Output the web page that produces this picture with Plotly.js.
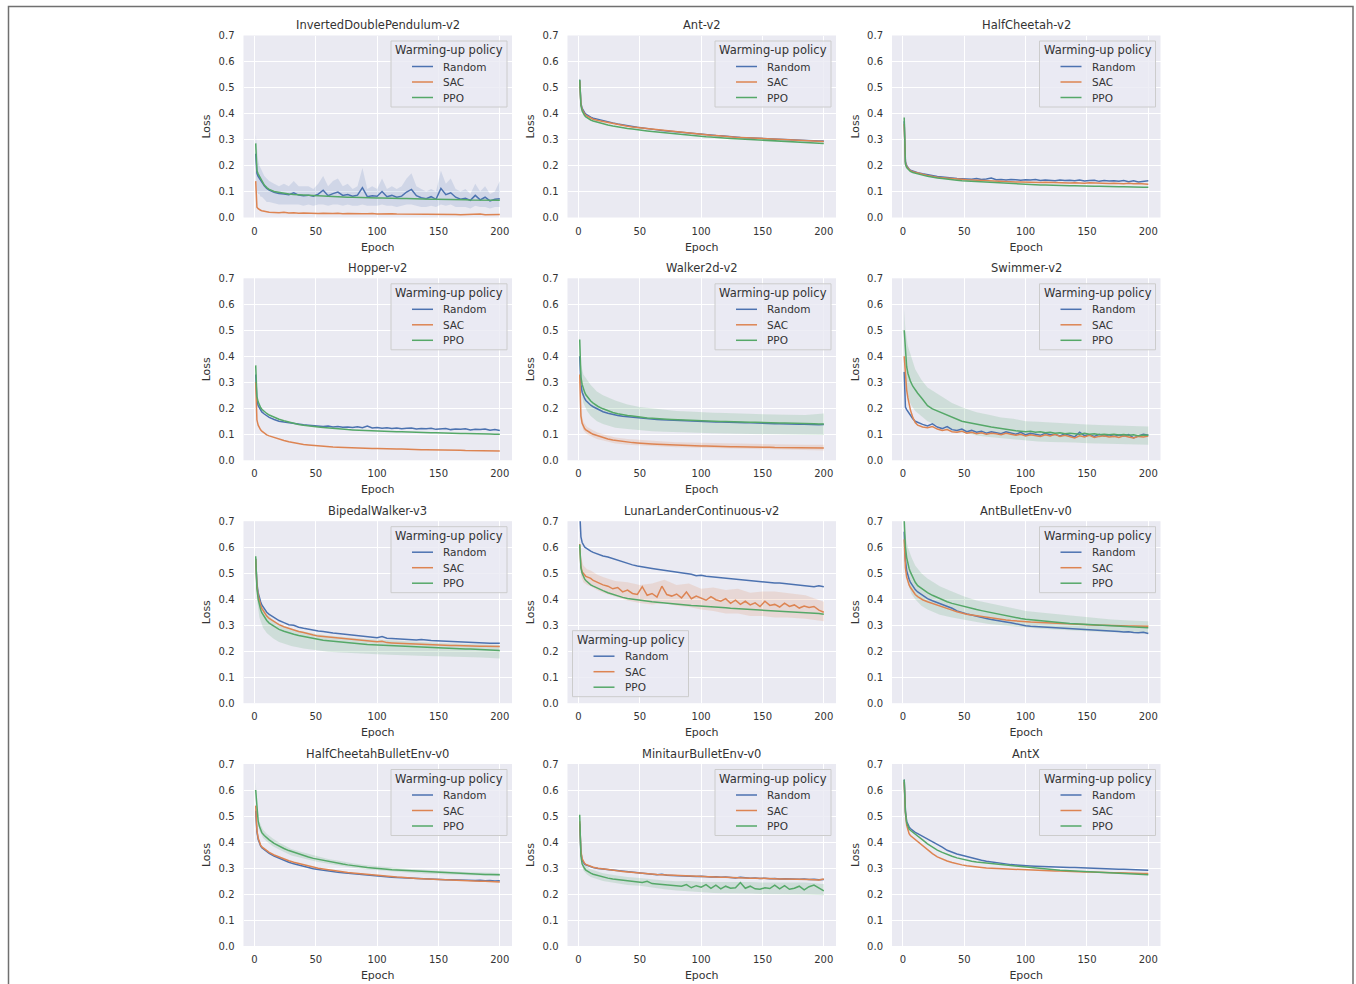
<!DOCTYPE html>
<html><head><meta charset="utf-8">
<script src="https://cdn.plot.ly/plotly-3.0.1.min.js"></script>
<style>html,body{margin:0;padding:0;background:#fff;}</style>
</head><body><div id="chart" style="width:1356px;height:984px;"></div>
<script>
// ---------------- data ----------------
const EPOCHS = [1,2,3,4,5,6,8,10, 12,16,20,24,28,32,36,40, 44,48,52,56,60,64,68,72, 76,80,84,88,92,96,100,104,
  108,112,116,120,124,128,132,136, 140,144,148,152,156,160,164,168, 172,176,180,184,188,192,196,200];
const BAND_EPOCHS = [1,2,4,7,10,15,20,30, 40,50,60,70,80,90,100,110, 120,130,140,150,160,170,185,200];
const ENV_NAMES = ['InvertedDoublePendulum-v2','Ant-v2','HalfCheetah-v2','Hopper-v2','Walker2d-v2','Swimmer-v2',
  'BipedalWalker-v3','LunarLanderContinuous-v2','AntBulletEnv-v0','HalfCheetahBulletEnv-v0','MinitaurBulletEnv-v0','AntX'];
const POLICY_NAMES = ['Random','SAC','PPO'];
const LEGEND_TITLE = 'Warming-up policy';
const X_TICKS = [0,50,100,150,200];
const Y_TICKS = [0,0.1,0.2,0.3,0.4,0.5,0.6,0.7];

const idpRandom = [0.245,0.170,0.158,0.150,0.142,0.135,0.122,0.112, 0.105,0.097,0.092,0.090,0.088,0.095,0.086,0.084,
  0.086,0.082,0.090,0.105,0.084,0.092,0.098,0.085, 0.088,0.082,0.086,0.115,0.080,0.084,0.082,0.100,
  0.080,0.085,0.078,0.082,0.098,0.108,0.084,0.076, 0.072,0.080,0.070,0.112,0.088,0.095,0.078,0.070,
  0.074,0.066,0.085,0.068,0.078,0.064,0.070,0.072];
const idpSac = [0.140,0.040,0.034,0.030,0.028,0.026,0.024,0.021, 0.020,0.019,0.018,0.020,0.017,0.018,0.016,0.017,
  0.016,0.016,0.015,0.016,0.015,0.015,0.016,0.014, 0.015,0.014,0.015,0.014,0.014,0.015,0.013,0.014,
  0.013,0.014,0.013,0.013,0.014,0.013,0.012,0.013, 0.013,0.012,0.013,0.012,0.012,0.013,0.012,0.011,
  0.012,0.011,0.012,0.013,0.011,0.012,0.011,0.012];
const idpPpo = [0.285,0.180,0.168,0.160,0.150,0.140,0.125,0.115, 0.108,0.100,0.096,0.093,0.090,0.088,0.087,0.085,
  0.084,0.083,0.082,0.081,0.081,0.080,0.079,0.079, 0.078,0.078,0.077,0.077,0.076,0.076,0.075,0.075,
  0.074,0.074,0.073,0.073,0.073,0.072,0.072,0.071, 0.071,0.070,0.070,0.070,0.069,0.069,0.068,0.068,
  0.068,0.067,0.067,0.066,0.066,0.065,0.065,0.066];
const idpRandomLo = [0.17,0.10,0.09,0.09,0.08,0.08,0.07,0.06, 0.06,0.055,0.05,0.05,0.05,0.05,0.05,0.045,
  0.05,0.045,0.05,0.05,0.045,0.05,0.05,0.045, 0.05,0.045,0.045,0.05,0.045,0.045,0.045,0.05,
  0.045,0.045,0.04,0.045,0.05,0.05,0.045,0.04, 0.04,0.045,0.04,0.05,0.045,0.05,0.04,0.04,
  0.04,0.035,0.045,0.04,0.04,0.035,0.04,0.04];
const idpRandomHi = [0.32,0.25,0.22,0.20,0.19,0.18,0.16,0.15, 0.14,0.13,0.12,0.13,0.12,0.14,0.12,0.12,
  0.12,0.11,0.13,0.16,0.12,0.14,0.15,0.12, 0.13,0.11,0.12,0.19,0.11,0.12,0.11,0.15,
  0.11,0.12,0.11,0.12,0.15,0.17,0.12,0.11, 0.10,0.11,0.10,0.18,0.13,0.15,0.11,0.10,
  0.11,0.09,0.13,0.10,0.12,0.09,0.10,0.14];

const antRandom = [0.530,0.440,0.420,0.410,0.403,0.398,0.391,0.386, 0.382,0.377,0.372,0.368,0.364,0.360,0.356,0.353,
  0.350,0.347,0.344,0.342,0.340,0.337,0.335,0.333, 0.331,0.329,0.327,0.325,0.323,0.321,0.320,0.318,
  0.317,0.315,0.314,0.312,0.311,0.310,0.308,0.307, 0.306,0.305,0.304,0.303,0.302,0.301,0.300,0.299,
  0.298,0.297,0.297,0.296,0.295,0.295,0.294,0.294];
const antSac = [0.525,0.435,0.415,0.405,0.398,0.393,0.387,0.382, 0.378,0.373,0.369,0.365,0.361,0.358,0.354,0.351,
  0.348,0.346,0.343,0.341,0.339,0.336,0.334,0.332, 0.330,0.328,0.326,0.324,0.322,0.321,0.319,0.318,
  0.316,0.315,0.313,0.312,0.310,0.309,0.308,0.307, 0.305,0.304,0.303,0.302,0.301,0.300,0.299,0.298,
  0.297,0.297,0.296,0.295,0.294,0.294,0.293,0.292];
const antPpo = [0.530,0.430,0.410,0.400,0.392,0.387,0.380,0.375, 0.371,0.365,0.360,0.356,0.352,0.348,0.345,0.342,
  0.340,0.337,0.335,0.333,0.331,0.329,0.327,0.325, 0.323,0.321,0.319,0.318,0.316,0.314,0.313,0.311,
  0.310,0.308,0.307,0.306,0.304,0.303,0.302,0.300, 0.299,0.298,0.297,0.296,0.295,0.294,0.293,0.292,
  0.291,0.290,0.289,0.289,0.288,0.287,0.286,0.285];

const hcRandom = [0.370,0.215,0.200,0.192,0.186,0.182,0.178,0.175, 0.172,0.168,0.164,0.160,0.158,0.156,0.153,0.152,
  0.150,0.149,0.148,0.147,0.150,0.146,0.148,0.152, 0.145,0.146,0.144,0.146,0.145,0.143,0.145,0.144,
  0.146,0.142,0.144,0.143,0.141,0.144,0.142,0.143, 0.141,0.144,0.140,0.142,0.143,0.139,0.142,0.140,
  0.141,0.139,0.142,0.138,0.141,0.137,0.140,0.141];
const hcSac = [0.360,0.210,0.196,0.189,0.184,0.180,0.176,0.173, 0.170,0.166,0.162,0.158,0.155,0.153,0.151,0.150,
  0.148,0.146,0.145,0.144,0.143,0.142,0.141,0.140, 0.140,0.139,0.139,0.138,0.137,0.137,0.136,0.137,
  0.136,0.135,0.136,0.135,0.134,0.135,0.134,0.133, 0.134,0.133,0.132,0.134,0.133,0.131,0.132,0.131,
  0.132,0.131,0.130,0.132,0.130,0.131,0.129,0.128];
const hcPpo = [0.385,0.205,0.192,0.186,0.181,0.177,0.173,0.170, 0.167,0.163,0.159,0.155,0.152,0.150,0.147,0.145,
  0.143,0.141,0.140,0.138,0.137,0.136,0.134,0.133, 0.132,0.131,0.130,0.129,0.128,0.128,0.127,0.126,
  0.126,0.125,0.125,0.124,0.124,0.123,0.123,0.122, 0.122,0.121,0.121,0.120,0.120,0.120,0.119,0.119,
  0.118,0.118,0.118,0.117,0.117,0.117,0.116,0.116];

const hopRandom = [0.330,0.230,0.210,0.200,0.192,0.186,0.178,0.170, 0.165,0.157,0.150,0.147,0.144,0.141,0.139,0.137,
  0.135,0.133,0.132,0.130,0.132,0.128,0.130,0.127, 0.128,0.126,0.129,0.125,0.132,0.124,0.126,0.123,
  0.125,0.122,0.124,0.121,0.123,0.124,0.120,0.122, 0.121,0.123,0.119,0.121,0.122,0.118,0.120,0.119,
  0.121,0.117,0.119,0.118,0.120,0.116,0.118,0.115];
const hopSac = [0.300,0.155,0.135,0.125,0.117,0.112,0.104,0.098, 0.094,0.087,0.081,0.076,0.071,0.067,0.064,0.061,
  0.059,0.057,0.055,0.054,0.052,0.051,0.050,0.049, 0.048,0.048,0.047,0.046,0.046,0.045,0.045,0.044,
  0.044,0.043,0.043,0.043,0.042,0.042,0.042,0.041, 0.041,0.041,0.040,0.040,0.040,0.039,0.039,0.039,
  0.038,0.038,0.038,0.037,0.037,0.037,0.036,0.036];
const hopPpo = [0.365,0.245,0.225,0.212,0.203,0.196,0.186,0.180, 0.174,0.165,0.158,0.152,0.147,0.142,0.138,0.135,
  0.132,0.130,0.128,0.126,0.124,0.122,0.121,0.119, 0.118,0.117,0.116,0.115,0.114,0.113,0.113,0.112,
  0.111,0.111,0.110,0.110,0.109,0.108,0.108,0.107, 0.107,0.106,0.106,0.105,0.105,0.104,0.104,0.103,
  0.103,0.103,0.102,0.102,0.101,0.101,0.100,0.100];

const walkRandom = [0.400,0.290,0.262,0.248,0.238,0.230,0.220,0.212, 0.206,0.195,0.187,0.181,0.176,0.172,0.169,0.167,
  0.165,0.163,0.161,0.160,0.158,0.157,0.156,0.155, 0.154,0.153,0.152,0.151,0.150,0.150,0.149,0.148,
  0.148,0.147,0.147,0.146,0.146,0.145,0.145,0.144, 0.144,0.143,0.143,0.142,0.142,0.141,0.141,0.140,
  0.140,0.139,0.139,0.139,0.138,0.138,0.137,0.138];
const walkSac = [0.330,0.170,0.142,0.130,0.122,0.117,0.110,0.105, 0.100,0.093,0.087,0.082,0.078,0.075,0.072,0.070,
  0.068,0.067,0.065,0.064,0.063,0.062,0.061,0.060, 0.059,0.058,0.058,0.057,0.056,0.056,0.055,0.055,
  0.054,0.054,0.053,0.053,0.052,0.052,0.052,0.051, 0.051,0.051,0.050,0.050,0.050,0.049,0.049,0.049,
  0.049,0.048,0.048,0.048,0.048,0.047,0.047,0.047];
const walkPpo = [0.465,0.320,0.292,0.275,0.262,0.252,0.238,0.228, 0.220,0.207,0.198,0.190,0.184,0.179,0.175,0.172,
  0.170,0.167,0.165,0.163,0.162,0.160,0.159,0.158, 0.157,0.156,0.155,0.154,0.153,0.153,0.152,0.151,
  0.151,0.150,0.149,0.149,0.148,0.148,0.147,0.147, 0.146,0.146,0.145,0.145,0.144,0.144,0.143,0.143,
  0.143,0.142,0.142,0.141,0.141,0.141,0.140,0.140];
const walkSacLo = [0.31,0.15,0.115,0.1,0.093,0.082,0.076,0.065, 0.06,0.057,0.054,0.052,0.05,0.049,0.048,0.046,
  0.045,0.044,0.043,0.042,0.041,0.041,0.04,0.038];
const walkSacHi = [0.35,0.19,0.148,0.128,0.12,0.108,0.1,0.088, 0.082,0.078,0.074,0.072,0.069,0.068,0.067,0.065,
  0.064,0.063,0.062,0.061,0.06,0.06,0.06,0.06];
const walkPpoLo = [0.43,0.27,0.22,0.19,0.17,0.15,0.14,0.125, 0.12,0.115,0.112,0.11,0.108,0.106,0.105,0.104,
  0.103,0.102,0.101,0.100,0.100,0.099,0.098,0.097];
const walkPpoHi = [0.50,0.37,0.33,0.31,0.29,0.265,0.25,0.23, 0.215,0.205,0.20,0.195,0.19,0.188,0.185,0.183,
  0.182,0.18,0.178,0.177,0.176,0.175,0.174,0.18];

const swimRandom = [0.340,0.205,0.195,0.188,0.180,0.172,0.160,0.150, 0.145,0.138,0.132,0.140,0.128,0.122,0.130,0.118,
  0.115,0.120,0.110,0.115,0.108,0.112,0.104,0.110, 0.106,0.102,0.110,0.104,0.100,0.108,0.098,0.104,
  0.100,0.096,0.104,0.098,0.100,0.094,0.102,0.096, 0.090,0.108,0.095,0.098,0.092,0.100,0.094,0.098,
  0.092,0.097,0.094,0.099,0.086,0.094,0.100,0.096];
const swimSac = [0.400,0.330,0.270,0.240,0.215,0.195,0.165,0.145, 0.135,0.128,0.125,0.130,0.120,0.115,0.118,0.110,
  0.108,0.112,0.104,0.108,0.102,0.106,0.100,0.104, 0.102,0.098,0.104,0.100,0.096,0.100,0.094,0.098,
  0.096,0.092,0.098,0.094,0.100,0.092,0.096,0.090, 0.086,0.094,0.090,0.096,0.088,0.092,0.094,0.090,
  0.092,0.088,0.094,0.090,0.086,0.092,0.090,0.093];
const swimPpo = [0.500,0.400,0.360,0.335,0.320,0.305,0.285,0.270, 0.258,0.235,0.210,0.198,0.190,0.182,0.172,0.165,
  0.158,0.150,0.146,0.142,0.138,0.136,0.132,0.128, 0.125,0.122,0.118,0.116,0.114,0.112,0.110,0.112,
  0.108,0.110,0.106,0.108,0.104,0.106,0.102,0.104, 0.102,0.100,0.104,0.100,0.102,0.098,0.100,0.098,
  0.100,0.097,0.099,0.096,0.098,0.094,0.097,0.096];
const swimPpoLo = [0.42,0.30,0.24,0.21,0.19,0.17,0.15,0.13, 0.115,0.105,0.095,0.09,0.085,0.08,0.075,0.072,
  0.07,0.07,0.068,0.066,0.065,0.063,0.062,0.06];
const swimPpoHi = [0.58,0.50,0.44,0.39,0.35,0.31,0.28,0.25, 0.22,0.20,0.185,0.175,0.165,0.16,0.15,0.148,
  0.145,0.143,0.14,0.138,0.136,0.135,0.133,0.13];

const bipRandom = [0.555,0.460,0.425,0.405,0.390,0.378,0.362,0.350, 0.342,0.330,0.318,0.310,0.302,0.300,0.292,0.288,
  0.284,0.280,0.278,0.276,0.272,0.270,0.268,0.266, 0.264,0.262,0.262,0.258,0.257,0.255,0.252,0.256,
  0.250,0.249,0.248,0.246,0.246,0.244,0.243,0.245, 0.242,0.241,0.240,0.239,0.238,0.238,0.236,0.236,
  0.235,0.234,0.234,0.233,0.232,0.231,0.231,0.231];
const bipSac = [0.555,0.450,0.415,0.393,0.377,0.365,0.348,0.335, 0.326,0.314,0.302,0.294,0.287,0.282,0.276,0.272,
  0.266,0.262,0.258,0.256,0.254,0.252,0.250,0.248, 0.246,0.244,0.243,0.241,0.239,0.238,0.236,0.238,
  0.233,0.232,0.231,0.230,0.229,0.228,0.227,0.228, 0.226,0.225,0.225,0.224,0.223,0.222,0.222,0.221,
  0.221,0.220,0.220,0.219,0.219,0.218,0.218,0.218];
const bipPpo = [0.565,0.440,0.400,0.378,0.360,0.348,0.330,0.318, 0.308,0.295,0.284,0.277,0.270,0.265,0.260,0.256,
  0.252,0.248,0.245,0.242,0.240,0.238,0.236,0.234, 0.232,0.230,0.229,0.227,0.226,0.225,0.224,0.223,
  0.222,0.221,0.220,0.219,0.218,0.217,0.216,0.215, 0.214,0.213,0.212,0.212,0.211,0.210,0.210,0.209,
  0.208,0.208,0.207,0.206,0.206,0.205,0.204,0.203];
const bipPpoLo = [0.52,0.40,0.33,0.29,0.27,0.25,0.235,0.22, 0.21,0.203,0.198,0.195,0.192,0.19,0.188,0.186,
  0.184,0.183,0.182,0.181,0.18,0.178,0.176,0.172];
const bipPpoHi = [0.595,0.47,0.40,0.365,0.345,0.32,0.305,0.285, 0.276,0.266,0.26,0.255,0.25,0.247,0.245,0.242,
  0.239,0.236,0.234,0.232,0.23,0.229,0.226,0.224];

const llRandom = [0.740,0.640,0.618,0.608,0.601,0.597,0.590,0.585, 0.580,0.572,0.566,0.562,0.556,0.548,0.542,0.536,
  0.532,0.528,0.524,0.522,0.518,0.515,0.512,0.510, 0.508,0.504,0.502,0.498,0.496,0.490,0.492,0.488,
  0.486,0.484,0.482,0.480,0.478,0.476,0.474,0.472, 0.470,0.468,0.467,0.466,0.464,0.462,0.462,0.460,
  0.458,0.457,0.455,0.452,0.450,0.448,0.452,0.448];
const llSac = [0.612,0.525,0.505,0.498,0.492,0.488,0.484,0.480, 0.472,0.462,0.455,0.450,0.440,0.445,0.428,0.435,
  0.422,0.418,0.448,0.415,0.422,0.408,0.450,0.418, 0.412,0.420,0.405,0.428,0.402,0.412,0.404,0.396,
  0.410,0.398,0.392,0.402,0.384,0.396,0.380,0.392, 0.378,0.386,0.372,0.392,0.376,0.380,0.370,0.385,
  0.372,0.378,0.366,0.374,0.368,0.372,0.358,0.350];
const llPpo = [0.610,0.520,0.500,0.488,0.478,0.472,0.462,0.455, 0.450,0.440,0.433,0.425,0.418,0.412,0.407,0.403,
  0.400,0.397,0.394,0.392,0.390,0.388,0.386,0.384, 0.382,0.380,0.379,0.377,0.376,0.375,0.374,0.372,
  0.371,0.370,0.368,0.367,0.365,0.364,0.363,0.362, 0.361,0.359,0.358,0.357,0.356,0.355,0.354,0.353,
  0.352,0.351,0.350,0.349,0.348,0.347,0.345,0.342];
const llSacLo = [0.59,0.49,0.465,0.455,0.45,0.435,0.425,0.41, 0.395,0.385,0.38,0.385,0.375,0.37,0.36,0.355,
  0.345,0.345,0.335,0.335,0.33,0.33,0.325,0.315];
const llSacHi = [0.635,0.56,0.53,0.515,0.51,0.495,0.485,0.47, 0.465,0.455,0.46,0.475,0.455,0.46,0.44,0.445,
  0.435,0.44,0.425,0.43,0.43,0.425,0.415,0.39];

const abRandom = [0.660,0.550,0.510,0.490,0.477,0.466,0.450,0.437, 0.428,0.415,0.402,0.394,0.387,0.380,0.372,0.365,
  0.355,0.348,0.343,0.339,0.334,0.330,0.326,0.322, 0.318,0.315,0.312,0.309,0.305,0.302,0.298,0.296,
  0.295,0.294,0.292,0.291,0.290,0.289,0.287,0.286, 0.285,0.284,0.283,0.282,0.281,0.280,0.279,0.278,
  0.277,0.276,0.274,0.275,0.272,0.271,0.273,0.268];
const abSac = [0.630,0.520,0.485,0.467,0.455,0.446,0.430,0.418, 0.410,0.398,0.390,0.383,0.377,0.371,0.365,0.358,
  0.352,0.346,0.342,0.339,0.336,0.333,0.330,0.327, 0.325,0.322,0.320,0.318,0.316,0.314,0.313,0.312,
  0.311,0.310,0.309,0.308,0.307,0.306,0.305,0.305, 0.304,0.303,0.302,0.302,0.301,0.300,0.300,0.299,
  0.299,0.298,0.298,0.297,0.297,0.296,0.296,0.296];
const abPpo = [0.705,0.600,0.560,0.535,0.518,0.505,0.483,0.465, 0.452,0.437,0.425,0.415,0.406,0.398,0.390,0.384,
  0.379,0.373,0.368,0.364,0.360,0.356,0.352,0.348, 0.344,0.340,0.336,0.332,0.329,0.326,0.323,0.321,
  0.319,0.317,0.315,0.313,0.311,0.310,0.308,0.307, 0.306,0.305,0.304,0.302,0.301,0.300,0.299,0.298,
  0.297,0.296,0.295,0.294,0.293,0.292,0.291,0.290];
const abPpoLo = [0.68,0.54,0.46,0.42,0.40,0.375,0.36,0.34, 0.33,0.32,0.312,0.305,0.30,0.295,0.29,0.287,
  0.284,0.281,0.279,0.277,0.275,0.273,0.27,0.268];
const abPpoHi = [0.72,0.64,0.60,0.56,0.53,0.50,0.48,0.45, 0.43,0.41,0.395,0.385,0.375,0.365,0.355,0.35,
  0.345,0.34,0.335,0.33,0.325,0.322,0.318,0.315];

const hcbRandom = [0.520,0.440,0.410,0.395,0.385,0.378,0.370,0.362, 0.356,0.346,0.337,0.329,0.322,0.316,0.311,0.306,
  0.301,0.297,0.294,0.291,0.289,0.286,0.284,0.282, 0.280,0.278,0.276,0.274,0.272,0.270,0.269,0.267,
  0.266,0.264,0.263,0.262,0.261,0.260,0.259,0.258, 0.257,0.257,0.256,0.256,0.255,0.255,0.254,0.254,
  0.253,0.253,0.252,0.253,0.251,0.252,0.250,0.251];
const hcbSac = [0.540,0.445,0.415,0.398,0.388,0.381,0.373,0.366, 0.360,0.350,0.342,0.335,0.328,0.322,0.317,0.312,
  0.307,0.303,0.299,0.296,0.293,0.290,0.288,0.285, 0.283,0.281,0.279,0.277,0.275,0.273,0.272,0.270,
  0.268,0.267,0.265,0.264,0.262,0.261,0.260,0.259, 0.258,0.257,0.256,0.255,0.254,0.253,0.253,0.252,
  0.251,0.251,0.250,0.249,0.249,0.248,0.247,0.246];
const hcbPpo = [0.600,0.520,0.480,0.460,0.445,0.436,0.425,0.416, 0.408,0.395,0.384,0.375,0.367,0.360,0.354,0.348,
  0.342,0.337,0.333,0.329,0.325,0.321,0.318,0.315, 0.312,0.309,0.306,0.304,0.302,0.300,0.299,0.297,
  0.295,0.293,0.292,0.291,0.289,0.288,0.287,0.286, 0.285,0.284,0.283,0.282,0.281,0.280,0.279,0.279,
  0.278,0.277,0.276,0.276,0.275,0.275,0.274,0.274];
const hcbPpoLo = [0.57,0.50,0.445,0.415,0.402,0.384,0.371,0.348, 0.337,0.325,0.316,0.308,0.301,0.295,0.291,0.287,
  0.284,0.281,0.278,0.276,0.274,0.272,0.27,0.268];
const hcbPpoHi = [0.635,0.545,0.478,0.447,0.432,0.413,0.398,0.373, 0.36,0.346,0.335,0.327,0.318,0.312,0.307,0.302,
  0.298,0.295,0.292,0.29,0.287,0.285,0.283,0.281];

const minRandom = [0.470,0.360,0.330,0.320,0.315,0.312,0.308,0.305, 0.302,0.298,0.296,0.293,0.290,0.288,0.286,0.284,
  0.282,0.280,0.278,0.277,0.275,0.274,0.276,0.272, 0.271,0.270,0.271,0.268,0.269,0.267,0.268,0.266,
  0.265,0.266,0.264,0.265,0.263,0.262,0.264,0.262, 0.261,0.262,0.260,0.261,0.259,0.260,0.258,0.259,
  0.258,0.259,0.257,0.258,0.256,0.257,0.255,0.256];
const minSac = [0.480,0.365,0.335,0.323,0.318,0.314,0.310,0.306, 0.303,0.299,0.296,0.294,0.291,0.289,0.287,0.285,
  0.283,0.281,0.279,0.278,0.276,0.275,0.274,0.273, 0.272,0.271,0.270,0.269,0.268,0.268,0.267,0.266,
  0.266,0.265,0.264,0.264,0.263,0.263,0.262,0.262, 0.261,0.261,0.260,0.260,0.259,0.259,0.258,0.258,
  0.258,0.257,0.257,0.256,0.256,0.255,0.254,0.258];
const minPpo = [0.505,0.345,0.315,0.305,0.298,0.292,0.285,0.280, 0.276,0.270,0.265,0.261,0.258,0.256,0.253,0.250,
  0.248,0.246,0.244,0.249,0.240,0.238,0.236,0.234, 0.233,0.231,0.230,0.236,0.224,0.232,0.226,0.236,
  0.222,0.234,0.220,0.230,0.222,0.224,0.244,0.222, 0.230,0.220,0.218,0.224,0.221,0.234,0.220,0.232,
  0.218,0.222,0.230,0.216,0.228,0.234,0.222,0.212];
const minPpoLo = [0.49,0.33,0.29,0.275,0.265,0.256,0.25,0.242, 0.235,0.232,0.224,0.218,0.213,0.21,0.206,0.204,
  0.203,0.203,0.202,0.2,0.2,0.2,0.198,0.195];
const minPpoHi = [0.52,0.36,0.32,0.305,0.295,0.286,0.28,0.272, 0.265,0.262,0.256,0.252,0.249,0.25,0.246,0.246,
  0.245,0.247,0.246,0.244,0.244,0.244,0.244,0.238];

const axRandom = [0.640,0.520,0.480,0.467,0.458,0.452,0.444,0.437, 0.432,0.422,0.410,0.400,0.390,0.380,0.368,0.360,
  0.354,0.349,0.344,0.338,0.334,0.330,0.326,0.323, 0.320,0.318,0.315,0.313,0.312,0.310,0.310,0.308,
  0.307,0.306,0.305,0.305,0.304,0.303,0.303,0.302, 0.302,0.301,0.300,0.300,0.299,0.298,0.298,0.297,
  0.296,0.295,0.295,0.294,0.293,0.293,0.292,0.291];
const axSac = [0.630,0.510,0.465,0.445,0.432,0.425,0.417,0.410, 0.402,0.385,0.370,0.355,0.343,0.334,0.327,0.321,
  0.316,0.312,0.309,0.306,0.304,0.302,0.300,0.299, 0.298,0.297,0.296,0.295,0.294,0.293,0.292,0.291,
  0.291,0.290,0.289,0.289,0.288,0.288,0.287,0.287, 0.286,0.286,0.285,0.285,0.284,0.284,0.283,0.283,
  0.282,0.282,0.281,0.281,0.280,0.280,0.279,0.279];
const axPpo = [0.640,0.515,0.475,0.460,0.450,0.445,0.437,0.430, 0.423,0.408,0.393,0.380,0.369,0.360,0.351,0.345,
  0.339,0.334,0.330,0.326,0.323,0.321,0.319,0.317, 0.315,0.313,0.311,0.309,0.307,0.305,0.303,0.301,
  0.299,0.297,0.295,0.293,0.292,0.291,0.290,0.289, 0.288,0.287,0.286,0.285,0.284,0.283,0.282,0.281,
  0.280,0.279,0.279,0.278,0.277,0.276,0.275,0.274];

// table built from the arrays above: [env][policy]
const SERIES = [
  [idpRandom, idpSac, idpPpo], [antRandom, antSac, antPpo], [hcRandom, hcSac, hcPpo],
  [hopRandom, hopSac, hopPpo], [walkRandom, walkSac, walkPpo], [swimRandom, swimSac, swimPpo],
  [bipRandom, bipSac, bipPpo], [llRandom, llSac, llPpo], [abRandom, abSac, abPpo],
  [hcbRandom, hcbSac, hcbPpo], [minRandom, minSac, minPpo], [axRandom, axSac, axPpo]
];
const BANDS = [
  {env:0, pol:0, x:EPOCHS, lo:idpRandomLo, hi:idpRandomHi},
  {env:4, pol:1, x:BAND_EPOCHS, lo:walkSacLo, hi:walkSacHi},
  {env:4, pol:2, x:BAND_EPOCHS, lo:walkPpoLo, hi:walkPpoHi},
  {env:5, pol:2, x:BAND_EPOCHS, lo:swimPpoLo, hi:swimPpoHi},
  {env:6, pol:2, x:BAND_EPOCHS, lo:bipPpoLo, hi:bipPpoHi},
  {env:7, pol:1, x:BAND_EPOCHS, lo:llSacLo, hi:llSacHi},
  {env:8, pol:2, x:BAND_EPOCHS, lo:abPpoLo, hi:abPpoHi},
  {env:9, pol:2, x:BAND_EPOCHS, lo:hcbPpoLo, hi:hcbPpoHi},
  {env:10, pol:2, x:BAND_EPOCHS, lo:minPpoLo, hi:minPpoHi}
];

// ---------------- layout / styling ----------------
const W = 1356, H = 984;
const COLS = [[243.5,512],[567.5,836],[892,1160.5]];
const ROWS = [[35.5,217.5],[278.3,460.3],[521.2,703.2],[764,946]];
const COLORS = ['#4C72B0','#DD8452','#55A868'];
const FILLS = ['rgba(76,114,176,0.16)','rgba(221,132,82,0.18)','rgba(85,168,104,0.18)'];
const TXT = '#333333';
const FONT = 'DejaVu Sans, sans-serif';
const px = x => x / W, py = y => 1 - y / H;
const sfx = k => (k === 0 ? '' : String(k + 1));

const traces = [];
BANDS.forEach(b => {
  const s = sfx(b.env);
  traces.push({x:b.x, y:b.lo, xaxis:'x'+s, yaxis:'y'+s, mode:'lines', line:{width:0, color:FILLS[b.pol]},
    hoverinfo:'skip', showlegend:false});
  traces.push({x:b.x, y:b.hi, xaxis:'x'+s, yaxis:'y'+s, mode:'lines', line:{width:0, color:FILLS[b.pol]},
    fill:'tonexty', fillcolor:FILLS[b.pol], hoverinfo:'skip', showlegend:false});
});
SERIES.forEach((env, k) => {
  const s = sfx(k);
  env.forEach((vals, p) => {
    traces.push({x:EPOCHS, y:vals, xaxis:'x'+s, yaxis:'y'+s, mode:'lines', name:POLICY_NAMES[p],
      line:{color:COLORS[p], width:1.5}, showlegend:false});
  });
});

const layout = {
  width:W, height:H, margin:{l:0, r:0, t:0, b:0}, autosize:false,
  paper_bgcolor:'#ffffff', plot_bgcolor:'#EAEAF2', showlegend:false,
  font:{family:FONT, size:10, color:TXT},
  annotations:[], shapes:[]
};

// page border
layout.shapes.push({type:'rect', xref:'paper', yref:'paper', x0:px(8.5), x1:px(1353), y0:py(6.5), y1:py(1000),
  line:{color:'#707070', width:1.5}, fillcolor:'rgba(0,0,0,0)', layer:'above'});

ENV_NAMES.forEach((name, k) => {
  const r = Math.floor(k / 3), c = k % 3, s = sfx(k);
  const [x0, x1] = COLS[c], [y0, y1] = ROWS[r];
  layout['xaxis'+s] = {domain:[px(x0), px(x1)], range:[-8.95, 209.95], anchor:'y'+s,
    tickmode:'array', tickvals:X_TICKS, ticks:'', showline:false, zeroline:false, ticklabelstandoff:6,
    showgrid:true, gridcolor:'#ffffff', gridwidth:1, tickfont:{size:10, color:TXT, family:FONT},
    title:{text:'Epoch', font:{size:11, color:TXT, family:FONT}, standoff:7}, fixedrange:true};
  layout['yaxis'+s] = {domain:[py(y1), py(y0)], range:[0, 0.7], anchor:'x'+s,
    tickmode:'array', tickvals:Y_TICKS, tickformat:'.1f', ticks:'', showline:false, zeroline:false, ticklabelstandoff:8,
    showgrid:true, gridcolor:'#ffffff', gridwidth:1, tickfont:{size:10, color:TXT, family:FONT},
    title:{text:'Loss', font:{size:11, color:TXT, family:FONT}, standoff:5}, fixedrange:true};
  // subplot title
  layout.annotations.push({xref:'paper', yref:'paper', x:px((x0+x1)/2), y:py(y0 - 10), text:name,
    showarrow:false, xanchor:'center', yanchor:'middle', font:{size:11.5, color:TXT, family:FONT}});
  // legend box
  const bw = 116, bh = 66;
  let bx0, by0;
  if (k === 7) { bx0 = x0 + 5; by0 = y1 - 6.5 - bh; }
  else { bx0 = x1 - 5 - bw; by0 = y0 + 5.5; }
  layout.shapes.push({type:'rect', xref:'paper', yref:'paper', x0:px(bx0), x1:px(bx0+bw), y0:py(by0+bh), y1:py(by0),
    line:{color:'#cccccc', width:1}, fillcolor:'rgba(234,234,242,0.8)', layer:'above'});
  layout.annotations.push({xref:'paper', yref:'paper', x:px(bx0 + bw/2), y:py(by0 + 9.5), text:LEGEND_TITLE,
    showarrow:false, xanchor:'center', yanchor:'middle', font:{size:11.5, color:TXT, family:FONT}});
  POLICY_NAMES.forEach((pn, p) => {
    const iy = by0 + 25.5 + p * 15.5;
    layout.shapes.push({type:'line', xref:'paper', yref:'paper', x0:px(bx0+21), x1:px(bx0+42), y0:py(iy), y1:py(iy),
      line:{color:COLORS[p], width:1.5}, layer:'above'});
    layout.annotations.push({xref:'paper', yref:'paper', x:px(bx0+50), y:py(iy), text:pn, showarrow:false,
      xanchor:'left', yanchor:'middle', font:{size:10.5, color:TXT, family:FONT}});
  });
});

Plotly.newPlot('chart', traces, layout, {staticPlot:true, displayModeBar:false});
</script>
</body></html>
